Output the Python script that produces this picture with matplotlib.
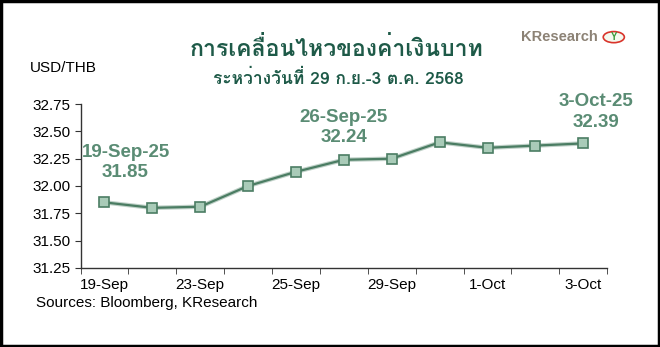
import matplotlib
matplotlib.use("Agg")
from matplotlib import pyplot as plt
from matplotlib.patches import Rectangle, Circle

dates = ["19-Sep", "22-Sep", "23-Sep", "24-Sep", "25-Sep", "26-Sep",
         "29-Sep", "30-Sep", "1-Oct", "2-Oct", "3-Oct"]
rates = [31.85, 31.80, 31.81, 32.00, 32.13, 32.24, 32.25, 32.40, 32.35, 32.37, 32.39]
yticks = [31.25, 31.50, 31.75, 32.00, 32.25, 32.50, 32.75]
# index of point -> label shown above it
callouts = {0: "19-Sep-25", 5: "26-Sep-25", 10: "3-Oct-25"}

title = "การเคลื่อนไหวของค่าเงินบาท"
subtitle = "ระหว่างวันที่ 29 ก.ย.-3 ต.ค. 2568"

thai = ['Loma', 'Sarabun', 'DejaVu Sans']
plt.rcParams['font.family'] = ['Liberation Sans', 'DejaVu Sans']

line_col = '#4b7d63'
face_col = '#a9cbb8'
text_col = '#5a8c74'
title_col = '#1e5a48'

fig = plt.figure(figsize=(6.6, 3.47), dpi=100)
ax = fig.add_axes([0.122, 0.228, 0.798, 0.472])

x = list(range(len(dates)))
ax.plot(x, rates, color=line_col, lw=3.2, alpha=0.35, zorder=2)
ax.plot(x, rates, color=line_col, lw=1.6, marker='s', markersize=7.5,
        markerfacecolor=face_col, markeredgecolor=line_col, markeredgewidth=1.2, zorder=3)

ax.set_xlim(-0.5, len(dates) - 0.5)
ax.set_ylim(31.25, 32.75)
ax.set_yticks(yticks)
ax.set_yticklabels([f"{v:.2f}" for v in yticks], fontsize=11)
ax.set_xticks(x[::2])
ax.set_xticklabels(dates[::2], fontsize=11)
ax.set_xticks([i - 0.5 for i in range(len(dates) + 1)], minor=True)
ax.tick_params(axis='x', which='major', length=0, pad=7)
ax.tick_params(axis='x', which='minor', length=4, direction='out', color='#333333')
ax.tick_params(axis='y', length=4, direction='out', color='#333333', pad=3)
for s in ['top', 'right']:
    ax.spines[s].set_visible(False)
for s in ['left', 'bottom']:
    ax.spines[s].set_color('#333333')
    ax.spines[s].set_linewidth(1.0)

# (x shift, height of value above the point)
offsets = {0: (0.44, 0.27), 5: (0.0, 0.20), 10: (0.27, 0.195)}
for i, lab in callouts.items():
    dx, dy = offsets[i]
    ax.text(i + dx, rates[i] + dy + 0.19, lab, ha='center', va='center',
            fontsize=13.5, fontweight='bold', color=text_col, clip_on=False)
    ax.text(i + dx, rates[i] + dy, f"{rates[i]:.2f}", ha='center', va='center',
            fontsize=13.5, fontweight='bold', color=text_col, clip_on=False)

fig.text(0.045, 0.804, "USD/THB", fontsize=11, va='center', ha='left')
fig.text(0.510, 0.862, title, fontsize=16.6, fontweight='bold', color=title_col,
         ha='center', va='center', family=thai)
fig.text(0.512, 0.775, subtitle, fontsize=12.5, fontweight='bold', color=title_col,
         ha='center', va='center', family=thai)
fig.text(0.054, 0.127, "Sources: Bloomberg, KResearch", fontsize=11, va='center', ha='left')

# logo
fig.text(0.905, 0.893, "KResearch", fontsize=10.5, fontweight='bold', color='#8c8275',
         ha='right', va='center')
fig.patches.append(Circle((0.93, 0.893), 0.016, transform=fig.transFigure,
                          facecolor='#f4f9ef', edgecolor='#d9342b', lw=1.2))
fig.text(0.93, 0.893, "Y", fontsize=7, fontweight='bold', color='#3a9a3a',
         ha='center', va='center')

fig.patches.append(Rectangle((0.002, 0.003), 0.996, 0.994, transform=fig.transFigure,
                             fill=False, edgecolor='black', lw=2.5))

fig.savefig("out.png", dpi=100, facecolor='white')
